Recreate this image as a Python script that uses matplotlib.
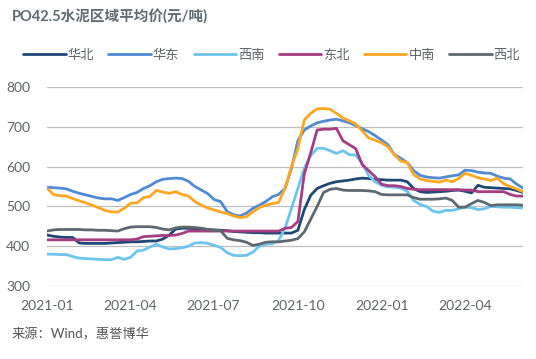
import matplotlib
matplotlib.use('Agg')
import matplotlib.pyplot as plt
import matplotlib.dates as mdates
import pandas as pd

plt.rcParams['font.family'] = ['Lato', 'Noto Sans CJK SC', 'DejaVu Sans']

dates = pd.date_range('2021-01-01', periods=75, freq='7D')

huabei = [428, 425, 423, 422, 422, 408, 407, 407, 407, 407, 408, 409, 410, 411, 411,
          412, 413, 413, 418, 428, 443, 445, 445, 444, 443, 442, 441, 440, 439, 437,
          436, 435, 434, 434, 433, 433, 433, 433, 433, 440, 492, 528, 545, 552, 558,
          562, 564, 566, 569, 571, 570, 568, 567, 566, 566, 566, 562, 545, 537, 535,
          536, 537, 538, 540, 541, 538, 534, 553, 548, 547, 546, 545, 544, 540, 535]
huadong = [548, 547, 546, 544, 538, 533, 529, 525, 521, 519, 519, 515, 522, 530, 535,
           545, 552, 562, 568, 570, 571, 570, 563, 550, 541, 532, 517, 512, 487, 479,
           476, 483, 495, 503, 512, 524, 530, 545, 595, 665, 692, 702, 710, 714, 717,
           719, 715, 710, 703, 695, 688, 678, 667, 655, 630, 621, 610, 590, 578, 574,
           572, 571, 574, 577, 579, 591, 590, 586, 584, 583, 576, 571, 569, 556, 546]
xinan = [380, 380, 379, 379, 374, 370, 369, 368, 367, 366, 366, 372, 367, 372, 388,
         390, 398, 405, 398, 393, 394, 396, 400, 408, 409, 407, 402, 397, 384, 377,
         376, 377, 385, 400, 405, 406, 414, 445, 495, 545, 596, 628, 646, 646, 640,
         633, 640, 630, 629, 608, 578, 562, 553, 549, 548, 546, 538, 515, 505, 500,
         488, 485, 490, 490, 494, 498, 497, 492, 494, 500, 499, 498, 498, 497, 496]
dongbei = [416, 416, 416, 416, 416, 416, 416, 416, 416, 416, 416, 416, 416, 416, 418,
           424, 425, 426, 427, 427, 428, 432, 438, 438, 438, 438, 438, 438, 438, 438,
           438, 438, 438, 438, 438, 438, 438, 445, 447, 462, 582, 635, 692, 694, 694,
           696, 665, 655, 645, 605, 590, 575, 556, 552, 552, 550, 545, 543, 542, 542,
           542, 542, 542, 542, 542, 541, 541, 537, 537, 537, 537, 537, 530, 526, 526]
zhongnan = [546, 530, 527, 526, 520, 514, 509, 503, 497, 490, 486, 486, 495, 508, 509,
            522, 525, 540, 536, 533, 537, 530, 526, 512, 503, 496, 491, 486, 482, 476,
            472, 474, 486, 497, 503, 507, 510, 545, 600, 645, 717, 734, 745, 746, 744,
            734, 722, 715, 707, 690, 672, 666, 660, 650, 630, 614, 610, 580, 569, 565,
            563, 561, 566, 562, 570, 583, 578, 572, 569, 565, 571, 557, 550, 544, 537]
xibei = [438, 441, 442, 442, 442, 442, 441, 441, 440, 440, 439, 438, 444, 448, 449,
         449, 449, 447, 443, 441, 446, 448, 448, 447, 445, 442, 440, 439, 420, 416,
         414, 410, 402, 405, 410, 411, 411, 413, 415, 419, 436, 468, 500, 535, 543,
         545, 541, 540, 540, 540, 539, 537, 530, 529, 529, 529, 529, 522, 518, 518,
         518, 519, 521, 515, 498, 498, 507, 515, 510, 502, 504, 504, 504, 504, 503]

series = [
    ('华北', huabei, '#1f4877'),
    ('华东', huadong, '#4f8ad4'),
    ('西南', xinan, '#6cc5ee'),
    ('东北', dongbei, '#a63c82'),
    ('中南', zhongnan, '#ffa622'),
    ('西北', xibei, '#5e6870'),
]

ytick_vals = [300, 400, 500, 600, 700, 800]
xtick_dates = pd.to_datetime(['2021-01-01', '2021-04-01', '2021-07-01',
                              '2021-10-01', '2022-01-01', '2022-04-01'])

fig = plt.figure(figsize=(5.36, 3.59), dpi=100)
ax = fig.add_axes([47 / 536, 1 - 286 / 359, 476 / 536, 199 / 359])

for name, vals, color in series:
    ax.plot(dates, vals, color=color, lw=2.0, label=name, solid_capstyle='round')

ax.set_xlim(dates[0], dates[-1])
ax.set_ylim(300, 800)
ax.set_yticks(ytick_vals)
ax.set_xticks(xtick_dates)
ax.xaxis.set_major_formatter(mdates.DateFormatter('%Y-%m'))
ax.grid(axis='y', color='#bfbfbf', lw=0.9)
ax.set_axisbelow(True)
for s in ax.spines.values():
    s.set_visible(False)
ax.tick_params(axis='both', length=0, labelsize=10, colors='#5f6468')
ax.tick_params(axis='x', pad=10)
ax.tick_params(axis='y', pad=12)

fig.text(12 / 536, 1 - 17 / 359, 'PO42.5水泥区域平均价(元/吨)', fontsize=10.5,
         fontweight='bold', color='#5f6b73', va='center', ha='left')

fig.legend(loc='center left', bbox_to_anchor=(18 / 536, 1 - 55 / 359), ncol=6,
           frameon=False, fontsize=9.5, handlelength=3.2, handletextpad=0.15,
           columnspacing=1.1, labelcolor='#5f6468', borderaxespad=0)

fig.text(12 / 536, 1 - 334 / 359, '来源：Wind，惠誉博华', fontsize=9.5,
         color='#555555', va='center', ha='left')

fig.savefig('out.png', dpi=100)
